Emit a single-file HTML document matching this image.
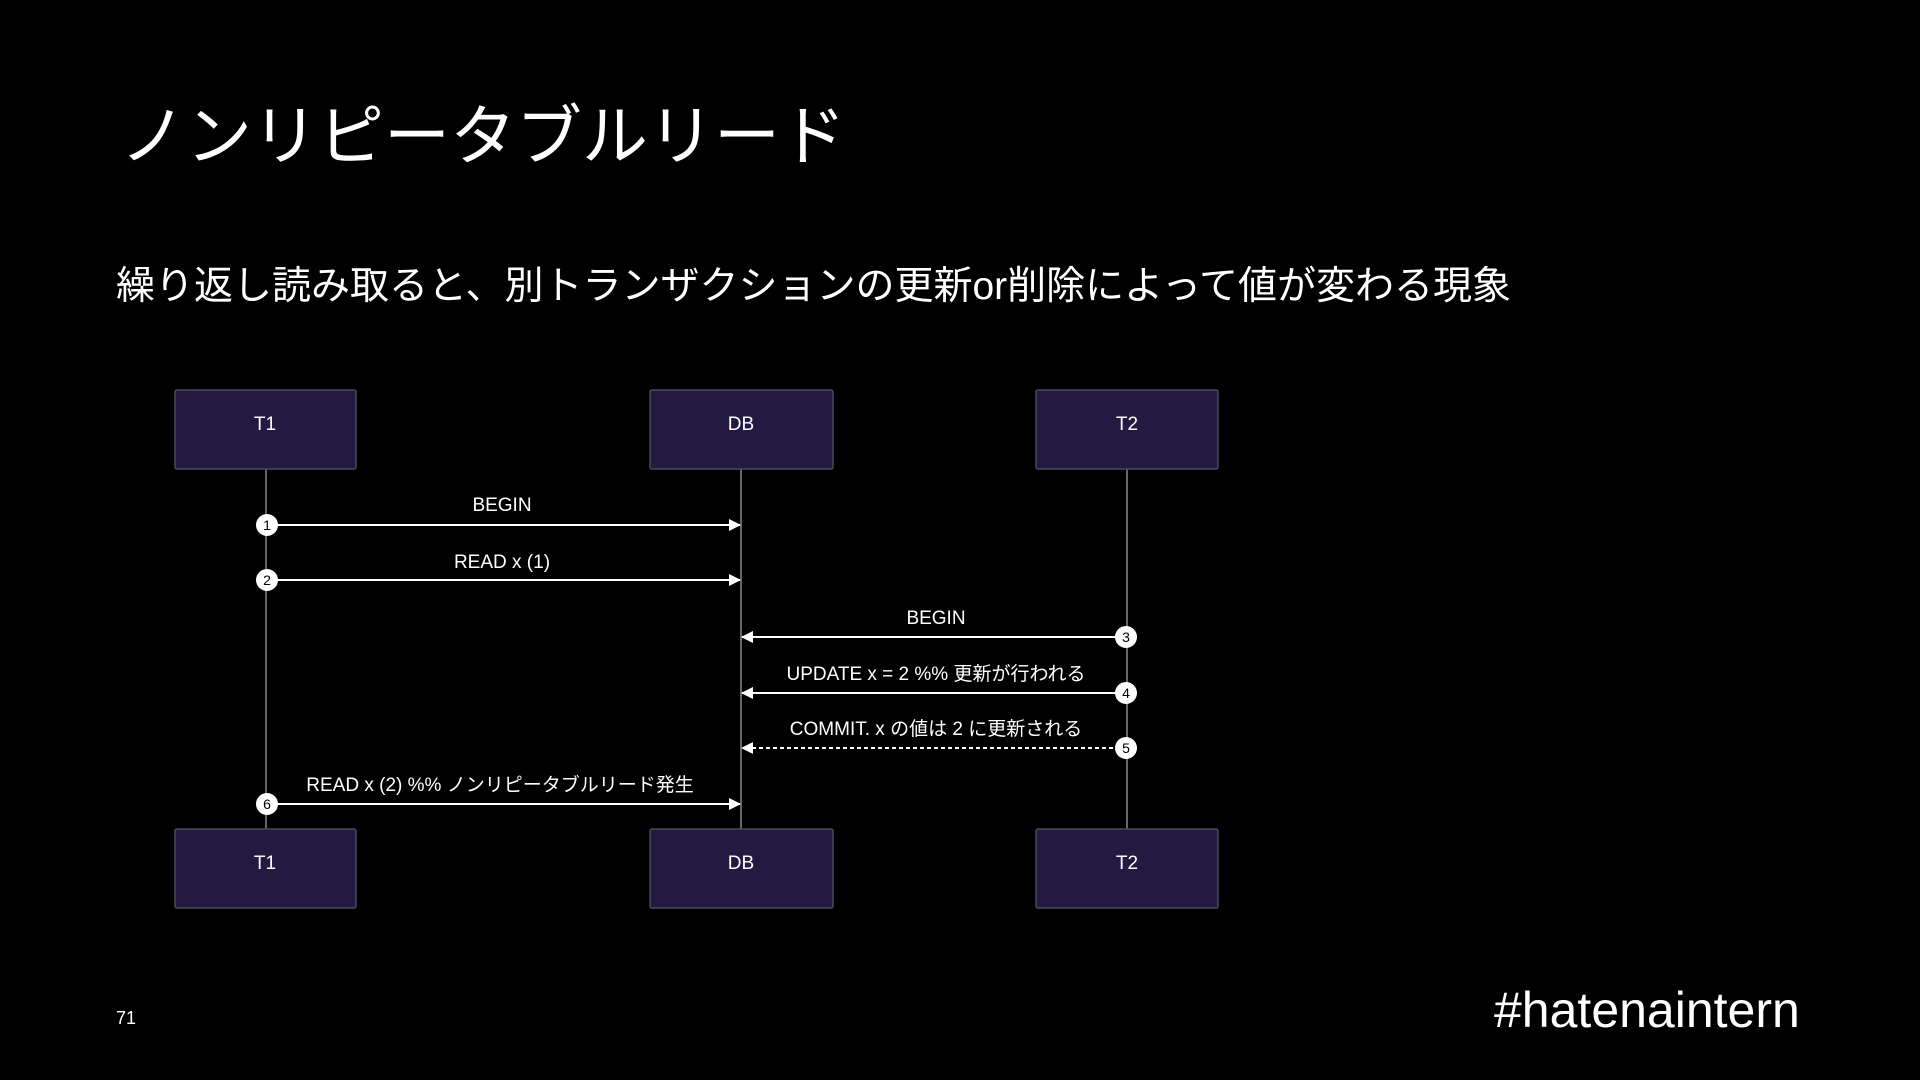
<!DOCTYPE html>
<html><head><meta charset="utf-8"><style>
body{margin:0;width:1920px;height:1080px;background:#000;overflow:hidden;font-family:"Liberation Sans","Noto Sans CJK JP",sans-serif;color:#fff}
.t{position:absolute;white-space:nowrap}
</style></head><body>
<div class="t" style="left:120px;top:96px;font-size:66px;line-height:80px">ノンリピータブルリード</div>
<div class="t" style="left:116px;top:263px;font-size:39px;line-height:48px">繰り返し読み取ると、別トランザクションの更新or削除によって値が変わる現象</div>
<div class="t" style="left:116px;top:1008px;font-size:18px">71</div>
<div class="t" style="left:1494px;top:980px;font-size:50px;line-height:60px">#hatenaintern</div>
<svg width="1920" height="1080" style="position:absolute;left:0;top:0" font-family="Liberation Sans, Noto Sans CJK JP, sans-serif">
<defs><marker id="a" markerWidth="12" markerHeight="12" refX="11" refY="6" orient="auto" markerUnits="userSpaceOnUse"><path d="M0,0L12,6L0,12z" fill="#fff"/></marker></defs>
<g stroke="#666" stroke-width="2"><line x1="266" y1="469" x2="266" y2="829"/><line x1="741" y1="469" x2="741" y2="829"/><line x1="1127" y1="469" x2="1127" y2="829"/></g>
<g fill="#231a42" stroke="#4a4a5a" stroke-width="1.5">
<rect x="175" y="390" width="181" height="79" rx="2"/><rect x="650" y="390" width="183" height="79" rx="2"/><rect x="1036" y="390" width="182" height="79" rx="2"/>
<rect x="175" y="829" width="181" height="79" rx="2"/><rect x="650" y="829" width="183" height="79" rx="2"/><rect x="1036" y="829" width="182" height="79" rx="2"/></g>
<g fill="#fff" font-size="19" text-anchor="middle">
<text x="265" y="430">T1</text><text x="741" y="430">DB</text><text x="1127" y="430">T2</text>
<text x="265" y="869">T1</text><text x="741" y="869">DB</text><text x="1127" y="869">T2</text>
<text x="502" y="511">BEGIN</text><text x="502" y="568">READ x (1)</text><text x="936" y="624">BEGIN</text>
<text x="936" y="680">UPDATE x = 2 %% 更新が行われる</text><text x="936" y="735">COMMIT. x の値は 2 に更新される</text>
<text x="500" y="791">READ x (2) %% ノンリピータブルリード発生</text></g>
<g stroke="#fff" stroke-width="2" marker-end="url(#a)">
<line x1="266" y1="525" x2="740" y2="525"/><line x1="266" y1="580" x2="740" y2="580"/>
<line x1="1127" y1="637" x2="742" y2="637"/><line x1="1127" y1="693" x2="742" y2="693"/>
<line x1="1127" y1="748" x2="742" y2="748" stroke-dasharray="4,3"/><line x1="266" y1="804" x2="740" y2="804"/></g>
<g fill="#fff"><circle cx="267" cy="525" r="11"/><circle cx="267" cy="580" r="11"/><circle cx="1126" cy="637" r="11"/><circle cx="1126" cy="693" r="11"/><circle cx="1126" cy="748" r="11"/><circle cx="267" cy="804" r="11"/></g>
<g fill="#000" font-size="14" text-anchor="middle"><text x="267" y="530">1</text><text x="267" y="585">2</text><text x="1126" y="642">3</text><text x="1126" y="698">4</text><text x="1126" y="753">5</text><text x="267" y="809">6</text></g>
</svg>
</body></html>
